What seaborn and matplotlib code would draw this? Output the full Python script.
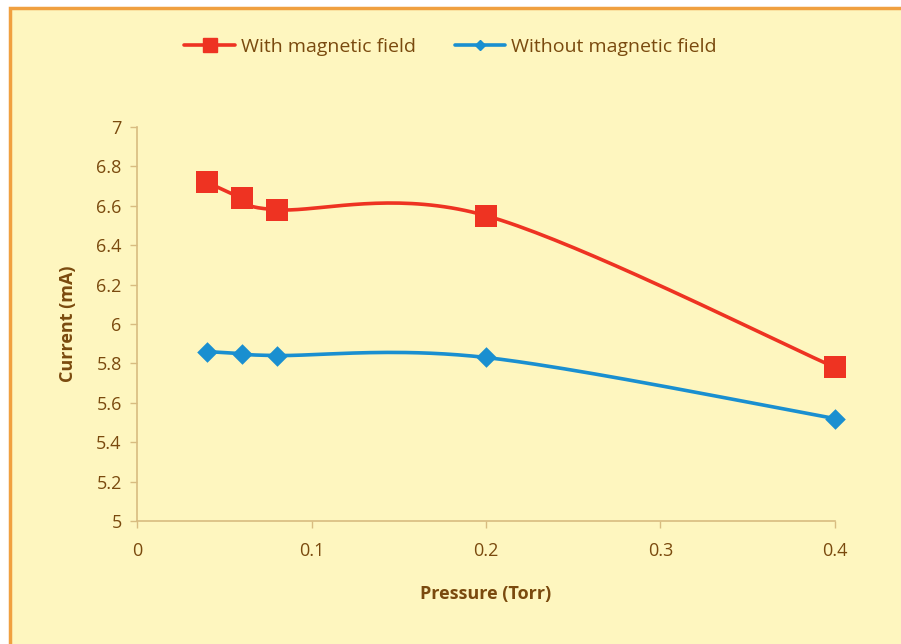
import numpy as np
import matplotlib
matplotlib.use("Agg")
import matplotlib.pyplot as plt
from matplotlib.lines import Line2D
from matplotlib.patches import Rectangle
import seaborn as sns

pressure = [0.04, 0.06, 0.08, 0.2, 0.4]
with_field = [6.72, 6.64, 6.58, 6.55, 5.78]
without_field = [5.86, 5.85, 5.84, 5.83, 5.52]
series_names = ["With magnetic field", "Without magnetic field"]
x_ticks = [0, 0.1, 0.2, 0.3, 0.4]
y_ticks = [5, 5.2, 5.4, 5.6, 5.8, 6, 6.2, 6.4, 6.6, 6.8, 7]

sns.set_style("white")
plt.rcParams['font.family'] = ['Open Sans', 'DejaVu Sans']

BG = "#FEF6BF"
TXT = "#7A4A0E"
AXC = "#D8BC80"
RED = "#EE3322"
BLUE = "#1A8FD0"


def smooth(xs, ys, n=40):
    xs = np.asarray(xs, float); ys = np.asarray(ys, float)
    pts = np.column_stack([xs, ys])
    out = []
    for i in range(len(pts) - 1):
        p0 = pts[i - 1] if i > 0 else pts[i]
        p1 = pts[i]; p2 = pts[i + 1]
        p3 = pts[i + 2] if i + 2 < len(pts) else pts[i + 1]
        c1 = p1 + (p2 - p0) / 6.0
        c2 = p2 - (p3 - p1) / 6.0
        t = np.linspace(0, 1, n)[:, None]
        seg = ((1 - t) ** 3) * p1 + 3 * ((1 - t) ** 2) * t * c1 + 3 * (1 - t) * t ** 2 * c2 + t ** 3 * p2
        out.append(seg if i == 0 else seg[1:])
    out = np.vstack(out)
    return out[:, 0], out[:, 1]


fig = plt.figure(figsize=(9.01, 6.44), dpi=100)
fig.patch.set_facecolor("white")
fig.add_artist(Rectangle((10 / 901, -0.05), 1.2, 1 - 8 / 644 + 0.05, transform=fig.transFigure,
                         facecolor=BG, edgecolor="#F0A040", linewidth=2.5, zorder=-1))
ax = fig.add_axes([137 / 901, 1 - 521 / 644, (835 - 137) / 901, (521 - 127) / 644])
ax.set_facecolor(BG)
ax.patch.set_alpha(0)

sx, sy = smooth(pressure, with_field)
sns.lineplot(x=sx, y=sy, ax=ax, color=RED, linewidth=2.6, sort=False, estimator=None)
sns.scatterplot(x=pressure, y=with_field, ax=ax, color=RED, marker="s", s=230, linewidth=0,
                zorder=5, clip_on=False)
sx2, sy2 = smooth(pressure, without_field)
sns.lineplot(x=sx2, y=sy2, ax=ax, color=BLUE, linewidth=2.6, sort=False, estimator=None)
sns.scatterplot(x=pressure, y=without_field, ax=ax, color=BLUE, marker="D", s=110, linewidth=0,
                zorder=5, clip_on=False)
for ln in ax.lines:
    ln.set_clip_on(False)

ax.set_xlim(0, 0.4)
ax.set_ylim(5, 7)
ax.set_xticks(x_ticks)
ax.set_xticklabels([f"{v:g}" for v in x_ticks])
ax.set_yticks(y_ticks)
ax.set_yticklabels([f"{v:g}" for v in y_ticks])
ax.tick_params(axis="both", bottom=True, left=True, colors=AXC, labelcolor=TXT, labelsize=13,
               length=5, width=1, direction="out")
ax.tick_params(axis="x", pad=10)
ax.tick_params(axis="y", pad=6)
for s in ["top", "right"]:
    ax.spines[s].set_visible(False)
for s in ["left", "bottom"]:
    ax.spines[s].set_color(AXC)
    ax.spines[s].set_linewidth(1.2)

ax.set_xlabel("Pressure (Torr)", fontsize=13, fontweight="bold", color=TXT, labelpad=18)
ax.set_ylabel("Current (mA)", fontsize=13, fontweight="bold", color=TXT, labelpad=14)

handles = [Line2D([], [], color=RED, lw=2.6, marker="s", markersize=10),
           Line2D([], [], color=BLUE, lw=2.6, marker="D", markersize=5)]
fig.legend(handles, series_names, loc="center", bbox_to_anchor=(0.5, 1 - 47 / 644), ncol=2,
           frameon=False, fontsize=14, labelcolor=TXT, handlelength=2.6, handletextpad=0.3,
           columnspacing=2.0)

fig.savefig("out.png", dpi=100, facecolor=fig.get_facecolor())
